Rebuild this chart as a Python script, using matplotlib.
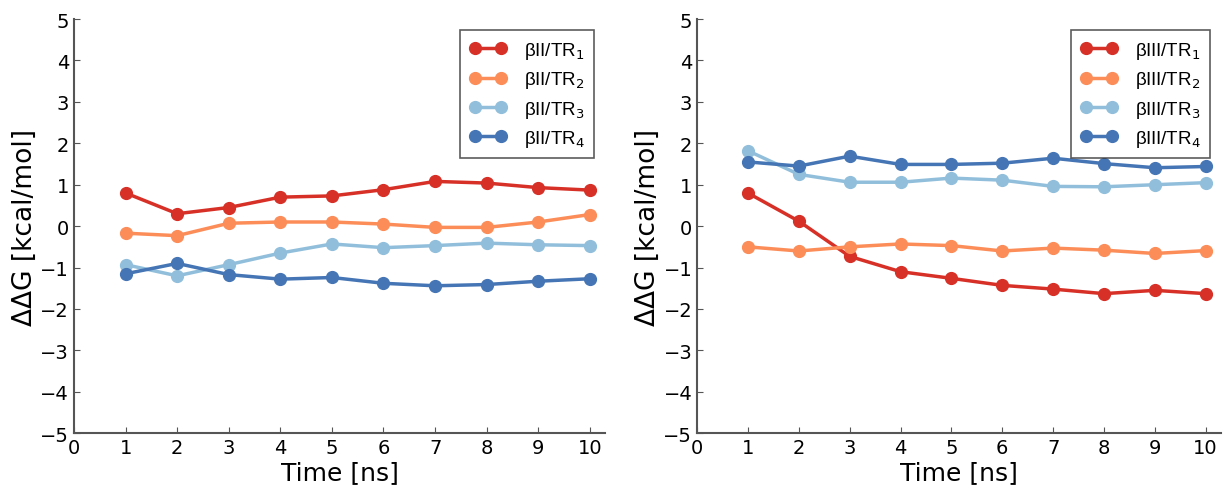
import matplotlib
matplotlib.use("Agg")
import matplotlib.pyplot as plt
import numpy as np

time = [1, 2, 3, 4, 5, 6, 7, 8, 9, 10]
colors = ['#d73027', '#fc8d59', '#91bfdb', '#4575b4']

b2_tr1 = [0.80, 0.30, 0.45, 0.70, 0.73, 0.88, 1.08, 1.04, 0.93, 0.87]
b2_tr2 = [-0.17, -0.23, 0.07, 0.10, 0.10, 0.05, -0.03, -0.03, 0.10, 0.28]
b2_tr3 = [-0.93, -1.20, -0.93, -0.65, -0.43, -0.52, -0.47, -0.41, -0.45, -0.47]
b2_tr4 = [-1.15, -0.90, -1.17, -1.28, -1.24, -1.38, -1.44, -1.41, -1.33, -1.27]

b3_tr1 = [0.80, 0.12, -0.73, -1.10, -1.26, -1.43, -1.52, -1.63, -1.55, -1.63]
b3_tr2 = [-0.50, -0.60, -0.50, -0.43, -0.47, -0.60, -0.53, -0.58, -0.66, -0.59]
b3_tr3 = [1.82, 1.25, 1.06, 1.06, 1.16, 1.11, 0.96, 0.95, 1.00, 1.05]
b3_tr4 = [1.55, 1.45, 1.69, 1.49, 1.49, 1.52, 1.64, 1.51, 1.41, 1.44]

fig = plt.figure(figsize=(12.24, 4.89), dpi=100)
ax1 = fig.add_axes([0.0605, 0.112, 0.434, 0.847])
ax2 = fig.add_axes([0.5695, 0.112, 0.428, 0.847])

def draw(ax, series, prefix):
    for i, (ys, c) in enumerate(zip(series, colors)):
        ax.plot(time, ys, '-o', color=c, lw=2.5, ms=8.5, mec=c,
                label=prefix + '/TR$_{%d}$' % (i + 1))
    ax.set_xlim(0, 10.3)
    ax.set_ylim(-5, 5)
    ax.set_xticks(range(0, 11))
    ax.set_yticks(range(-5, 6))
    ax.spines['top'].set_visible(False)
    ax.spines['right'].set_visible(False)
    for s in ['left', 'bottom']:
        ax.spines[s].set_color('#555555')
        ax.spines[s].set_linewidth(1.5)
    ax.tick_params(direction='in', length=4, labelsize=14, color='#555555')
    ax.set_xlabel('Time [ns]', fontsize=18, labelpad=2)
    ax.set_ylabel('ΔΔG [kcal/mol]', fontsize=19, labelpad=2)
    leg = ax.legend(loc='upper right', numpoints=2, frameon=True,
                    fancybox=False, borderpad=0.5, handlelength=2.0,
                    labelspacing=0.45, handletextpad=0.9,
                    borderaxespad=0.6,
                    prop={'family': 'Liberation Sans', 'size': 13.5})
    leg.get_frame().set_edgecolor('#333333')
    leg.get_frame().set_linewidth(1.2)

draw(ax1, [b2_tr1, b2_tr2, b2_tr3, b2_tr4], 'βII')
draw(ax2, [b3_tr1, b3_tr2, b3_tr3, b3_tr4], 'βIII')

fig.savefig('out.png', dpi=100)
